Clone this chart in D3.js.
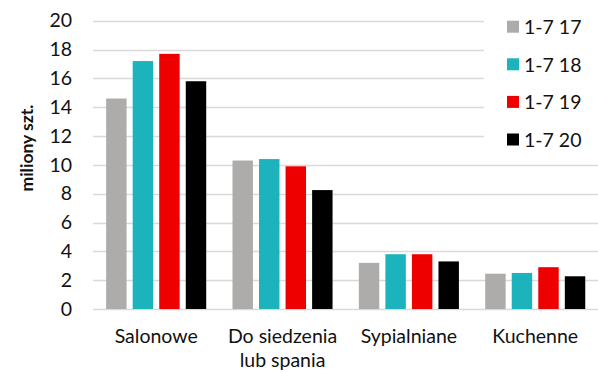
<!DOCTYPE html>
<html>
<head>
<meta charset="utf-8">
<script src="https://cdn.jsdelivr.net/npm/d3@7"></script>
<style>
  html, body { margin: 0; padding: 0; background: #fff; }
  svg { display: block; font-family: Lato, "Open Sans", sans-serif; }
</style>
</head>
<body>
<svg id="chart" width="598" height="372"></svg>
<script>
// Categories (each entry is one label; multi-line labels split on "\n")
const categories = ["Salonowe", "Do siedzenia\nlub spania", "Sypialniane", "Kuchenne"];
// Series names and colours
const seriesNames = ["1-7 17", "1-7 18", "1-7 19", "1-7 20"];
const seriesColors = ["#adacab", "#1cb3bc", "#ee0000", "#000000"];
// Values in millions of units, one array per series
const s17 = [14.6, 10.3, 3.2, 2.45];
const s18 = [17.2, 10.4, 3.8, 2.5];
const s19 = [17.7, 9.9, 3.8, 2.9];
const s20 = [15.8, 8.25, 3.3, 2.27];
const yTicks = [0, 2, 4, 6, 8, 10, 12, 14, 16, 18, 20];
const yTitle = "miliony szt.";

const seriesValues = [s17, s18, s19, s20];
const svg = d3.select("#chart");
const textColor = "#111";

const plot = { left: 93, right: 598.4, top: 20.7, bottom: 309 };

const y = d3.scaleLinear().domain([0, 20]).range([plot.bottom, plot.top]);
const x0 = d3.scaleBand().domain(categories).range([plot.left, plot.right]).padding(0);
const x1 = d3.scaleBand().domain(seriesNames)
  .range([x0.bandwidth() * 0.104, x0.bandwidth() * 0.896])
  .paddingInner(0.23);

// Horizontal gridlines
svg.append("g").selectAll("line").data(yTicks).join("line")
  .attr("x1", plot.left).attr("x2", plot.right)
  .attr("y1", d => Math.round(y(d)) + 0.5).attr("y2", d => Math.round(y(d)) + 0.5)
  .attr("stroke", "#d9d9d9").attr("stroke-width", 1.3);

// Bars
const groups = svg.append("g").selectAll("g").data(categories).join("g")
  .attr("transform", d => `translate(${x0(d)},0)`);
groups.selectAll("rect")
  .data((c, ci) => seriesNames.map((s, si) => ({ s, si, v: seriesValues[si][ci] })))
  .join("rect")
  .attr("x", d => x1(d.s))
  .attr("width", x1.bandwidth())
  .attr("y", d => y(d.v))
  .attr("height", d => y(0) - y(d.v))
  .attr("fill", d => seriesColors[d.si]);

// Y axis tick labels
const yAxis = d3.axisLeft(y).tickValues(yTicks).tickSize(0).tickPadding(0);
svg.append("g")
  .attr("transform", `translate(72,0)`)
  .call(yAxis)
  .call(g => g.select(".domain").remove())
  .call(g => g.selectAll("text")
    .attr("font-family", "Lato, sans-serif")
    .attr("font-size", 19.5)
    .attr("fill", textColor));

// Y axis title
svg.append("text")
  .attr("transform", `translate(26,148) rotate(-90)`)
  .attr("text-anchor", "middle")
  .attr("dominant-baseline", "central")
  .attr("font-size", 17.5)
  .attr("font-weight", "bold")
  .attr("fill", textColor)
  .text(yTitle);

// Category labels
const xl = svg.append("g").selectAll("text").data(categories).join("text")
  .attr("text-anchor", "middle")
  .attr("font-size", 19.5)
  .attr("fill", textColor);
xl.each(function (d) {
  const t = d3.select(this);
  d.split("\n").forEach((line, i) => {
    t.append("tspan")
      .attr("x", x0(d) + x0.bandwidth() / 2)
      .attr("y", 343 + i * 24)
      .text(line);
  });
});

// Legend with white backdrop
const legend = svg.append("g");
legend.append("rect")
  .attr("x", 484).attr("y", 8).attr("width", 114).attr("height", 150)
  .attr("fill", "#fff");
const items = legend.selectAll("g").data(seriesNames).join("g")
  .attr("transform", (d, i) => `translate(507,${26.7 + i * 37.6})`);
items.append("rect")
  .attr("x", 0).attr("y", -6).attr("width", 12).attr("height", 12)
  .attr("fill", (d, i) => seriesColors[i]);
items.append("text")
  .attr("x", 17).attr("y", 0)
  .attr("dominant-baseline", "central")
  .attr("font-size", 19.5)
  .attr("fill", textColor)
  .text(d => d);
</script>
</body>
</html>
